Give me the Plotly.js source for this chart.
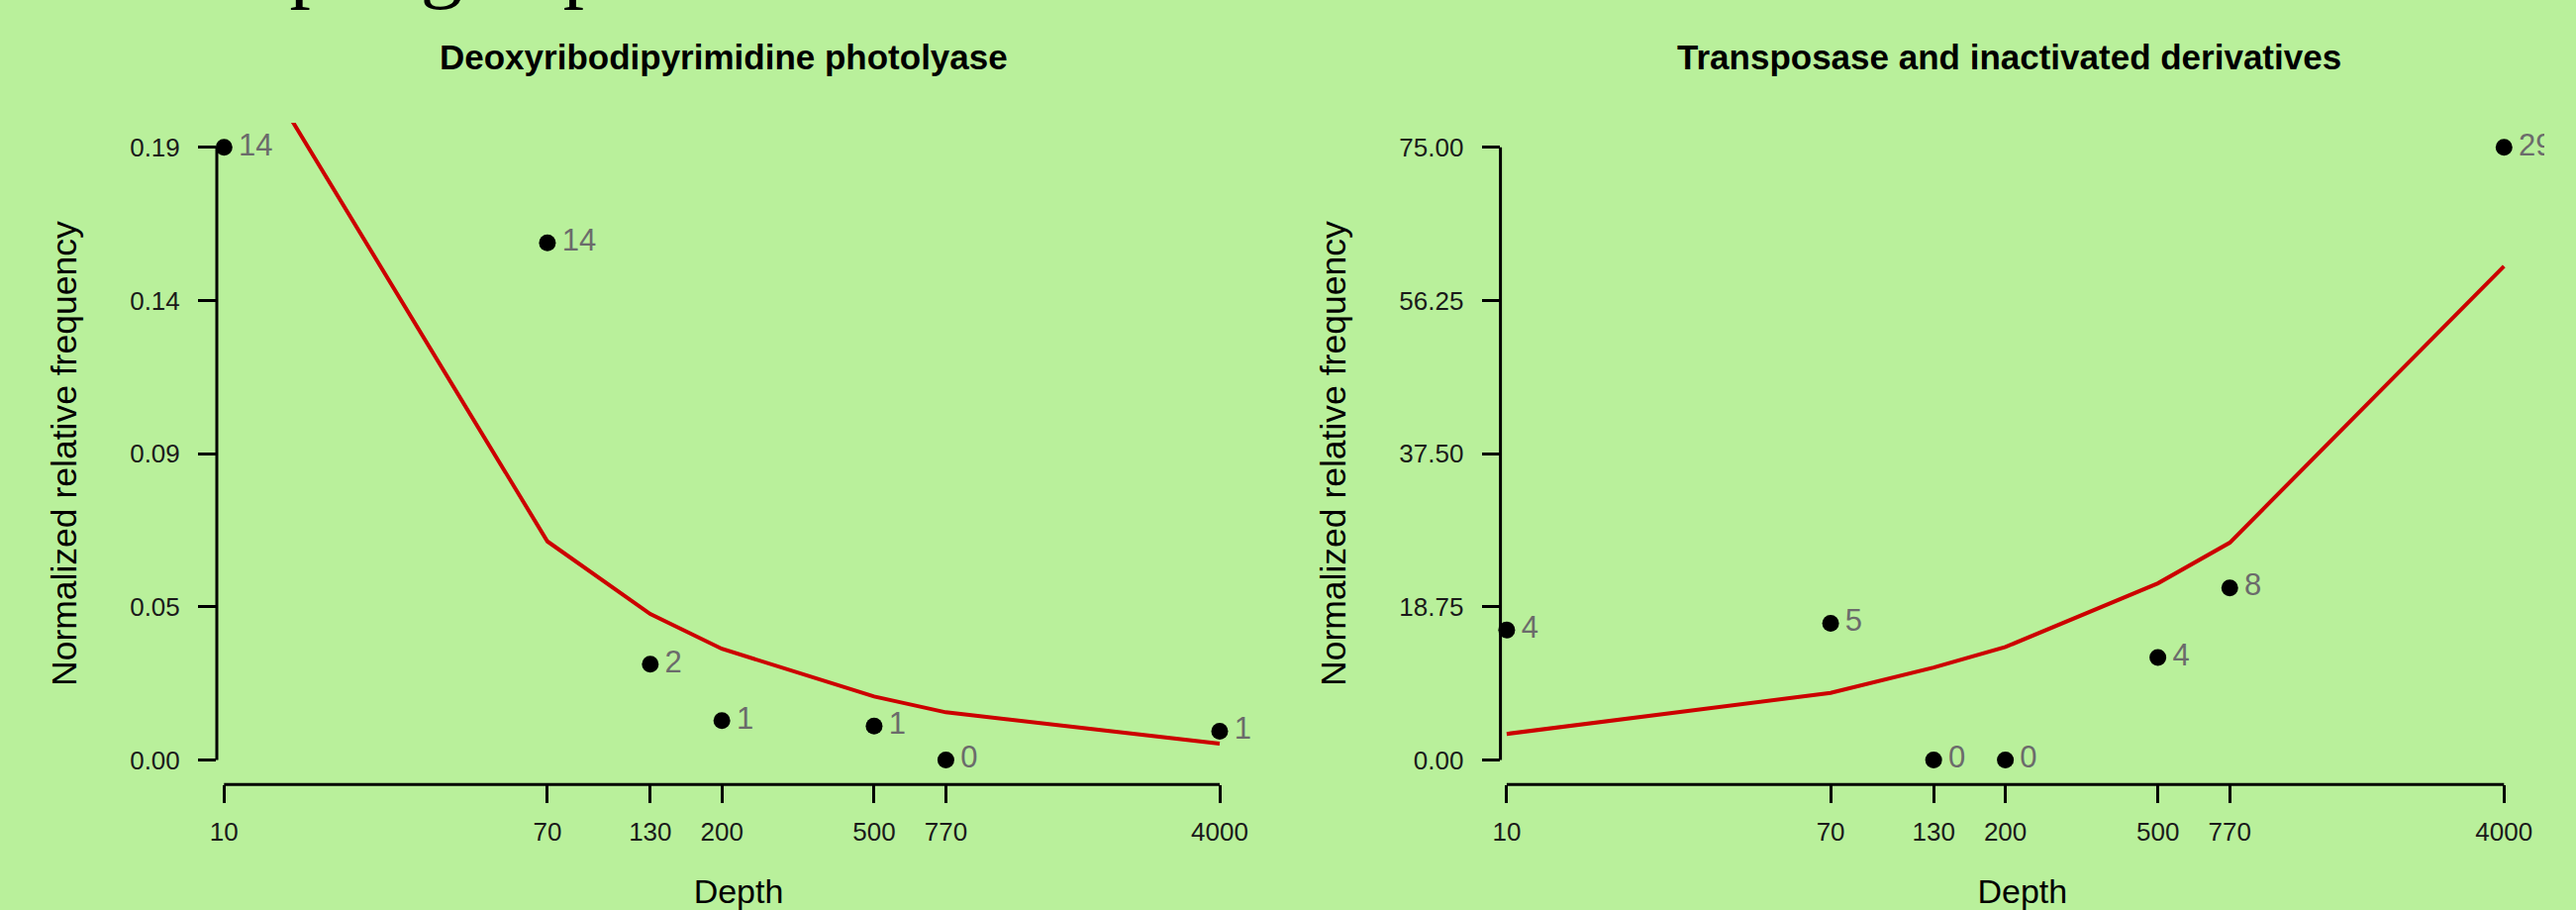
<!DOCTYPE html>
<html>
<head>
<meta charset="utf-8">
<script src="https://cdn.plot.ly/plotly-3.0.1.min.js"></script>
<style>
  html, body { margin: 0; padding: 0; background: #b9f09b; }
  #chart { width: 2602px; height: 919px; }
</style>
</head>
<body>
<div id="chart"></div>
<script>
// ---- data ----
const depth = [10, 70, 130, 200, 500, 770, 4000];
const depthLabels = ["10", "70", "130", "200", "500", "770", "4000"];

const photolyaseObserved = [0.19, 0.1604, 0.0297, 0.0122, 0.0105, 0.0, 0.0089];
const photolyaseCounts = ["14", "14", "2", "1", "1", "0", "1"];
const photolyaseFitted = [0.233, 0.0678, 0.0453, 0.0345, 0.0197, 0.0148, 0.0051];
const photolyaseTicks = [0, 0.0475, 0.095, 0.1425, 0.19];
const photolyaseTickLabels = ["0.00", "0.05", "0.09", "0.14", "0.19"];

const transposaseObserved = [15.9, 16.73, 0, 0, 12.55, 21.07, 75];
const transposaseCounts = ["4", "5", "0", "0", "4", "8", "29"];
const transposaseFitted = [3.2, 8.22, 11.32, 13.83, 21.63, 26.6, 60.45];
const transposaseTicks = [0, 18.75, 37.5, 56.25, 75];
const transposaseTickLabels = ["0.00", "18.75", "37.50", "56.25", "75.00"];

const panelTitles = ["Deoxyribodipyrimidine photolyase", "Transposase and inactivated derivatives"];
const xTitle = "Depth";
const yTitle = "Normalized relative frequency";
const pageTitle = "Sampling depth";

// ---- style ----
const W = 2602, H = 919;
const BG = "#b9f09b";
const RED = "#cc0000";
const SANS = "Liberation Sans, Arial, sans-serif";
const px = v => v / W;
const py = v => (H - v) / H;

function panelTraces(xa, ya, obs, counts, fit) {
  return [
    { x: depth, y: fit, xaxis: xa, yaxis: ya, type: "scatter", mode: "lines",
      line: { color: RED, width: 4 }, hoverinfo: "skip" },
    { x: depth, y: obs, xaxis: xa, yaxis: ya, type: "scatter", mode: "markers",
      marker: { color: "black", size: 17 }, cliponaxis: false },
    { x: depth, y: obs, xaxis: xa, yaxis: ya, type: "scatter", mode: "markers+text",
      marker: { color: "rgba(0,0,0,0)", size: 22 }, text: counts,
      textposition: "middle right",
      textfont: { family: SANS, size: 31, color: "#6b6b6b" },
      cliponaxis: true, hoverinfo: "skip" }
  ];
}

const data = [].concat(
  panelTraces("x", "y", photolyaseObserved, photolyaseCounts, photolyaseFitted),
  panelTraces("x2", "y2", transposaseObserved, transposaseCounts, transposaseFitted)
);

function xAxis(domain, range) {
  return {
    domain: domain, type: "log", range: range,
    showgrid: false, zeroline: false, showline: false,
    ticks: "outside", ticklen: 18, tickwidth: 3, tickcolor: "black",
    tickmode: "array", tickvals: depth, ticktext: depthLabels,
    tickfont: { family: SANS, size: 26, color: "#1a1a1a" },
    ticklabelstandoff: 6,
    title: { text: xTitle, font: { family: SANS, size: 34, color: "black" }, standoff: 37 },
    fixedrange: true
  };
}
function yAxis(domain, range, tv, tt, anchor) {
  return {
    domain: domain, range: range, anchor: anchor,
    showgrid: false, zeroline: false, showline: false,
    ticks: "outside", ticklen: 18, tickwidth: 3, tickcolor: "black",
    tickmode: "array", tickvals: tv, ticktext: tt,
    tickfont: { family: SANS, size: 26, color: "#1a1a1a" },
    ticklabelstandoff: 13,
    title: { text: yTitle, font: { family: SANS, size: 35.5, color: "black" }, standoff: 42 },
    fixedrange: true
  };
}

const yDomain = [py(792.3), py(124)];

function axisLines(xa, ya, ticks) {
  return [
    { type: "line", xref: xa, yref: ya + " domain",
      x0: depth[0], x1: depth[depth.length - 1], y0: 0, y1: 0,
      line: { color: "black", width: 3 } },
    { type: "line", xref: xa + " domain", yref: ya,
      x0: 0, x1: 0, y0: ticks[0], y1: ticks[ticks.length - 1],
      line: { color: "black", width: 3 } }
  ];
}

const layout = {
  width: W, height: H,
  margin: { l: 0, r: 0, t: 0, b: 0, pad: 0 },
  paper_bgcolor: BG, plot_bgcolor: BG,
  showlegend: false,
  title: {
    text: pageTitle, xref: "container", yref: "container",
    x: px(141.5), xanchor: "left", y: 1, yanchor: "bottom", pad: { b: 8, t: 0, l: 0, r: 0 },
    font: { family: "Liberation Serif, Times New Roman, serif", size: 85, color: "black" }
  },
  xaxis: xAxis([px(219), px(1273)], [0.98111, 3.70814]),
  yaxis: yAxis(yDomain, [-0.0076, 0.1976], photolyaseTicks, photolyaseTickLabels, "x"),
  xaxis2: Object.assign(xAxis([px(1515.6), px(2570)], [0.98372, 3.7072]), { anchor: "y2" }),
  yaxis2: yAxis(yDomain, [-3, 78], transposaseTicks, transposaseTickLabels, "x2"),
  shapes: [].concat(axisLines("x", "y", photolyaseTicks), axisLines("x2", "y2", transposaseTicks)),
  annotations: [
    { text: panelTitles[0], xref: "paper", yref: "paper", x: px(731), y: py(58),
      xanchor: "center", yanchor: "middle", showarrow: false,
      font: { family: SANS, size: 35, color: "black", weight: "bold" } },
    { text: panelTitles[1], xref: "paper", yref: "paper", x: px(2029), y: py(58),
      xanchor: "center", yanchor: "middle", showarrow: false,
      font: { family: SANS, size: 35, color: "black", weight: "bold" } }
  ]
};
layout.xaxis.anchor = "y";

Plotly.newPlot("chart", data, layout, { displayModeBar: false, staticPlot: true });
</script>
</body>
</html>
